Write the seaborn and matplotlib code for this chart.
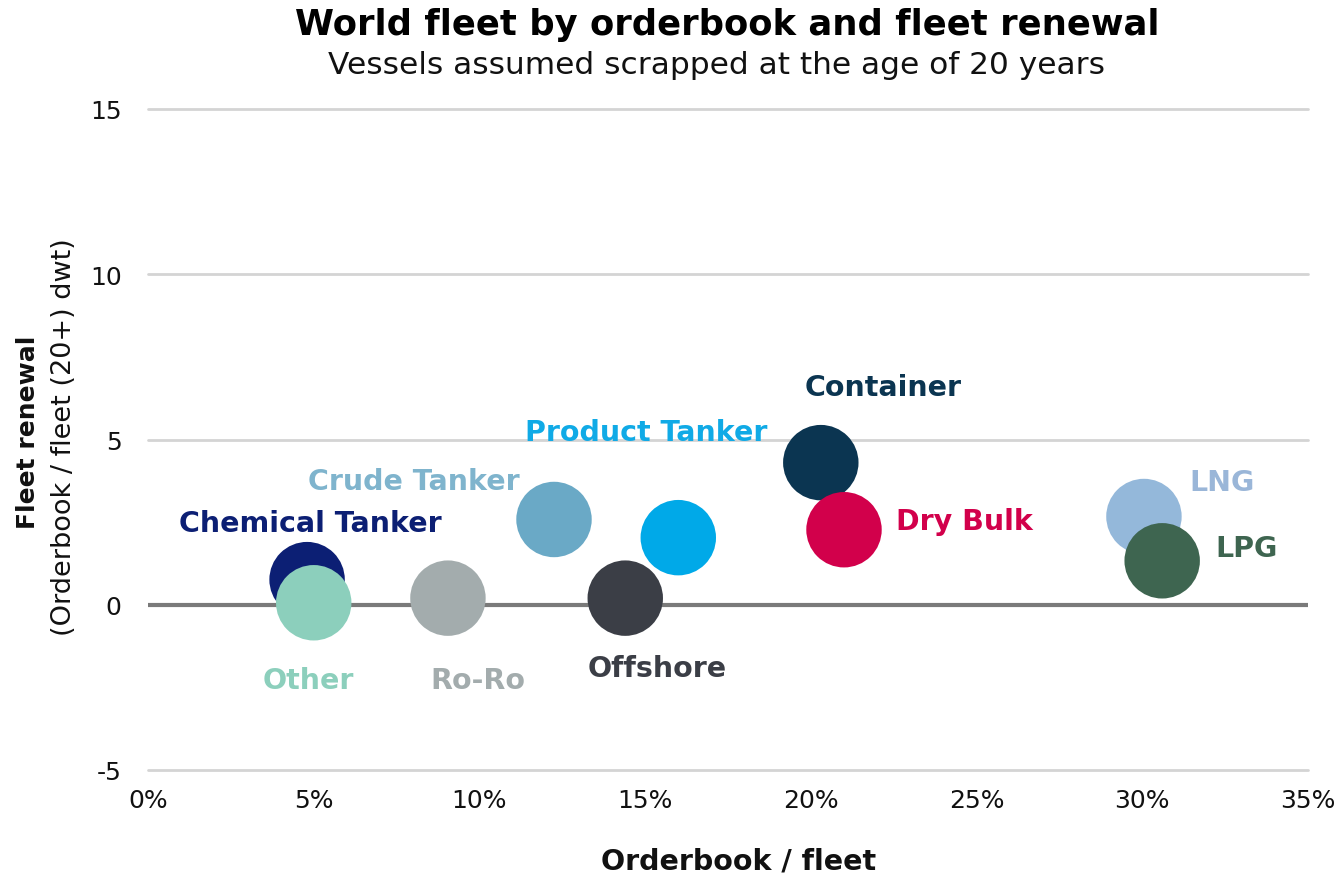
import matplotlib
matplotlib.use("Agg")
import matplotlib.pyplot as plt
from matplotlib.ticker import FuncFormatter, MultipleLocator
import seaborn as sns
import pandas as pd

# Segment data: orderbook as % of fleet, fleet renewal ratio
segments = ["Chemical Tanker", "Other", "Ro-Ro", "Crude Tanker", "Product Tanker",
            "Offshore", "Container", "Dry Bulk", "LNG", "LPG"]
orderbook_pct = [4.8, 5.0, 9.05, 12.25, 16.0, 14.4, 20.3, 21.0, 30.05, 30.6]
fleet_renewal = [0.76, 0.06, 0.2, 2.58, 2.03, 0.2, 4.3, 2.27, 2.67, 1.33]

bubble_colors = ["#0c1f74", "#8ccfbc", "#a3acad", "#6aa9c6", "#00a9e8",
                 "#3b3e46", "#0b3551", "#d2004b", "#94b8da", "#3e6550"]
label_colors = ["#0c1f74", "#8ccfbc", "#a3acad", "#7fb4cd", "#10aae6",
                "#3b3e46", "#0b3551", "#d2004b", "#9ab6d8", "#3e6550"]
# label offsets from bubble centre, in pixels (dx, dy)
label_offsets = [(3, 57), (-5, -77), (30, -82), (-140, 38), (-32, 106),
                 (32, -70), (62, 76), (120, 9), (78, 35), (84, 13)]

df = pd.DataFrame({"segment": segments, "orderbook": orderbook_pct,
                   "renewal": fleet_renewal})

sns.set_theme(style="white")
plt.rcParams["font.family"] = ["DejaVu Sans"]

fig = plt.figure(figsize=(13.44, 8.78), dpi=100)
ax = fig.add_axes([148 / 1344, 1 - 771 / 878, 1160 / 1344, 661 / 878])

ax.set_xlim(0, 35)
ax.set_ylim(-5, 15)
ax.xaxis.set_major_locator(MultipleLocator(5))
ax.yaxis.set_major_locator(MultipleLocator(5))
ax.xaxis.set_major_formatter(FuncFormatter(lambda v, p: f"{v:.0f}%"))
ax.yaxis.set_major_formatter(FuncFormatter(lambda v, p: f"{v:.0f}"))

for y in [-5, 5, 10, 15]:
    ax.axhline(y, color="#d4d4d4", lw=2, zorder=0, clip_on=False)
ax.axhline(0, color="#7a7a7a", lw=3, zorder=1)

sns.scatterplot(data=df, x="orderbook", y="renewal", hue="segment",
                palette=dict(zip(segments, bubble_colors)), s=2950,
                linewidth=0, alpha=1, legend=False, ax=ax, zorder=3)

for name, x, y, c, (dx, dy) in zip(segments, orderbook_pct, fleet_renewal,
                                  label_colors, label_offsets):
    ax.annotate(name, (x, y), xytext=(dx * 0.72, dy * 0.72),
                textcoords="offset points", ha="center", va="center",
                fontsize=20.5, fontweight="bold", color=c, zorder=4)

for s in ax.spines.values():
    s.set_visible(False)
ax.tick_params(axis="both", length=0, labelsize=18, colors="#111111")
ax.tick_params(axis="x", pad=13)
ax.tick_params(axis="y", pad=19)
ax.set_xlabel("")
ax.set_ylabel("")

fig.text(0.5 * (600 + 877) / 1344, 1 - 862 / 878, "Orderbook / fleet",
         ha="center", va="center", fontsize=20.5, fontweight="bold",
         color="#111111")
fig.text(28 / 1344, 1 - 432 / 878, "Fleet renewal", rotation=90, ha="center",
         va="center", fontsize=18, fontweight="bold", color="#111111")
fig.text(64 / 1344, 1 - 437 / 878, "(Orderbook / fleet (20+) dwt)", rotation=90,
         ha="center", va="center", fontsize=19.5, color="#111111")

fig.text(0.5 * (289 + 1166) / 1344, 1 - 25 / 878,
         "World fleet by orderbook and fleet renewal",
         ha="center", va="center", fontsize=25.5, fontweight="bold", color="#000000")
fig.text(0.5 * (305 + 1128) / 1344, 1 - 66 / 878,
         "Vessels assumed scrapped at the age of 20 years",
         ha="center", va="center", fontsize=22.5, color="#111111")

fig.savefig("out.png", dpi=100, facecolor="white")
